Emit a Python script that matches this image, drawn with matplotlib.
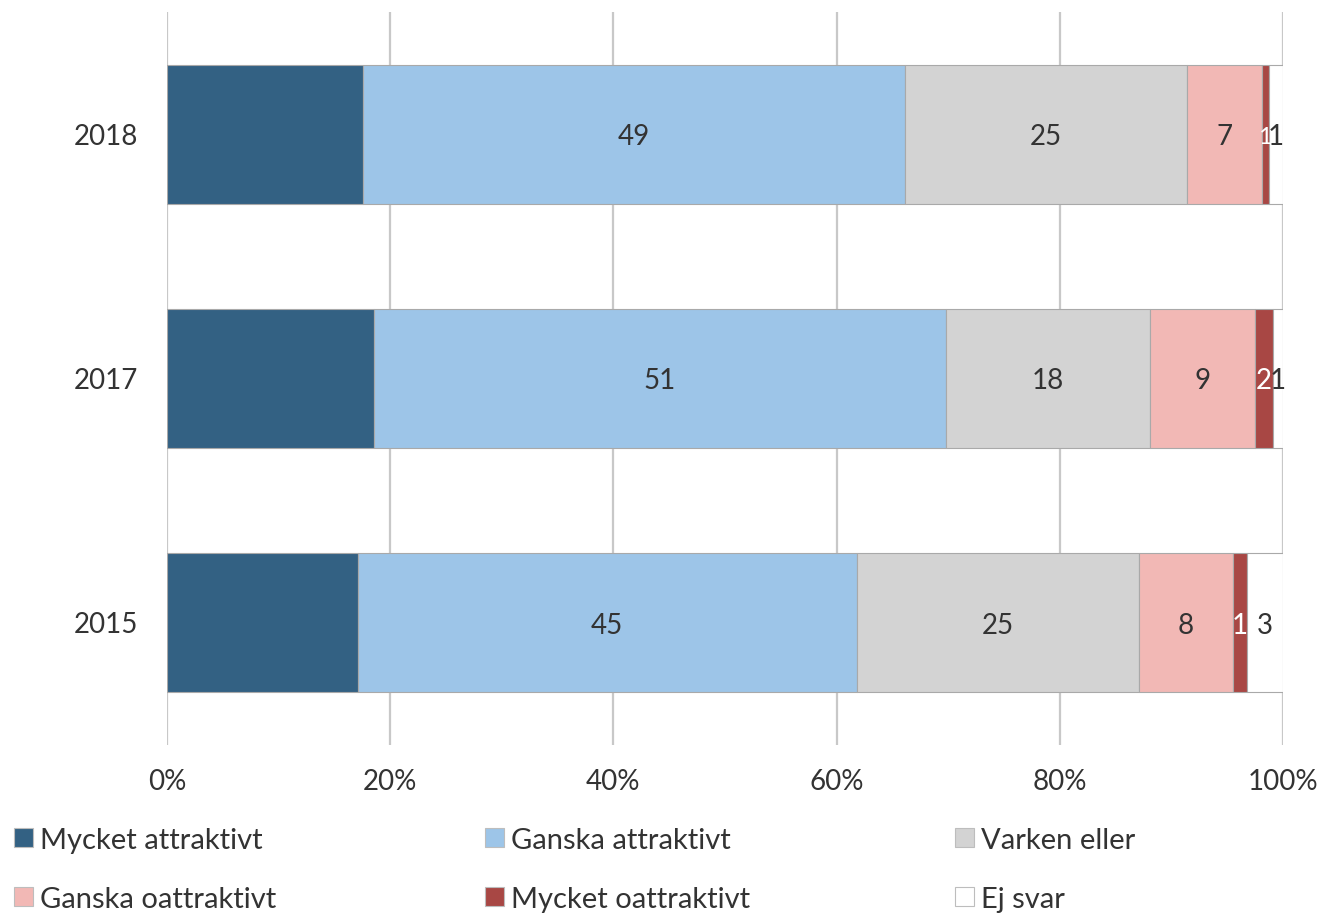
import matplotlib
matplotlib.use("Agg")
import matplotlib.pyplot as plt
from matplotlib.patches import Rectangle
import numpy as np

plt.rcParams['font.family'] = ['Lato', 'DejaVu Sans']

years = ["2015", "2017", "2018"]
categories = ["Mycket attraktivt", "Ganska attraktivt", "Varken eller",
              "Ganska oattraktivt", "Mycket oattraktivt", "Ej svar"]
mycket_attraktivt = [17.1, 18.5, 17.6]
ganska_attraktivt = [44.7, 51.2, 48.6]
varken_eller = [25.3, 18.3, 25.3]
ganska_oattraktivt = [8.4, 9.4, 6.7]
mycket_oattraktivt = [1.3, 1.6, 0.6]
ej_svar = [3.2, 0.9, 1.3]
series = [mycket_attraktivt, ganska_attraktivt, varken_eller,
          ganska_oattraktivt, mycket_oattraktivt, ej_svar]
colors = ["#336183", "#9dc5e8", "#d3d3d3", "#f2b8b5", "#a84744", "#ffffff"]
label_colors = [None, "#333333", "#333333", "#333333", "#ffffff", "#333333"]
xticks = [0, 20, 40, 60, 80, 100]
xtick_labels = ["0%", "20%", "40%", "60%", "80%", "100%"]

W, H = 1319, 916
fig = plt.figure(figsize=(W / 100, H / 100), dpi=100)
ax = fig.add_axes([167 / W, 1 - 745 / H, (1283 - 167) / W, (745 - 12) / H])

data = np.array(series)
totals = data.sum(axis=0)
pct = data / totals * 100
ypos = np.arange(len(years))
left = np.zeros(len(years))
for i, cat in enumerate(categories):
    bars = ax.barh(ypos, pct[i], left=left, height=0.57, color=colors[i],
                   edgecolor="#a9a9a9", linewidth=0.8, label=cat, zorder=3)
    if label_colors[i] is not None:
        for j, b in enumerate(bars):
            w = pct[i][j]
            fs = 17 if w < 0.8 else 20
            ax.text(left[j] + w / 2, ypos[j] - 0.012, f"{data[i][j]:.0f}",
                    ha="center", va="center", fontsize=fs,
                    color=label_colors[i], zorder=4)
    left = left + pct[i]

ax.set_xlim(0, 100)
ax.set_ylim(-0.5, 2.5)
ax.set_xticks(xticks)
ax.set_xticklabels(xtick_labels)
ax.set_yticks(ypos)
ax.set_yticklabels(years)
ax.tick_params(axis="both", length=0, labelsize=20, colors="#333333")
ax.tick_params(axis="x", pad=17)
ax.tick_params(axis="y", pad=21)
ax.grid(axis="x", color="#c8c8c8", linewidth=1.6, zorder=0)
ax.set_axisbelow(True)
for s in ax.spines.values():
    s.set_visible(False)

# legend (manual, three columns x two rows)
col_x = [14, 485, 955]
row_y = [838, 897]
for k, idx in enumerate(range(len(categories))):
    r, c = divmod(k, 3)
    x0 = col_x[c]
    yc = row_y[r]
    fig.patches.append(Rectangle((x0 / W, 1 - (yc + 9) / H), 19 / W, 19 / H,
                                 transform=fig.transFigure, facecolor=colors[idx],
                                 edgecolor="#bdbdbd", linewidth=0.8))
    fig.text((x0 + 26) / W, 1 - (yc + 3) / H, categories[idx], fontsize=21,
             color="#333333", ha="left", va="center")

fig.savefig("out.png", dpi=100)
